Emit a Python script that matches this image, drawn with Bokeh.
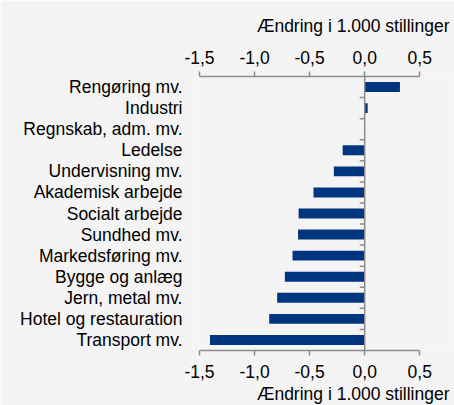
from bokeh.plotting import figure
from bokeh.models import Range1d, LinearAxis, FixedTicker, Span, Title
from bokeh.embed import file_html
from bokeh.resources import INLINE

categories = ["Rengøring mv.", "Industri", "Regnskab, adm. mv.", "Ledelse",
              "Undervisning mv.", "Akademisk arbejde", "Socialt arbejde",
              "Sundhed mv.", "Markedsføring mv.", "Bygge og anlæg",
              "Jern, metal mv.", "Hotel og restauration", "Transport mv."]
values = [0.32, 0.027, 0.003, -0.20, -0.28, -0.465, -0.60, -0.605,
          -0.655, -0.725, -0.795, -0.867, -1.405]
x_ticks = [-1.5, -1.0, -0.5, 0.0, 0.5]
x_tick_labels = ["-1,5", "-1,0", "-0,5", "0,0", "0,5"]
axis_title = "Ændring i 1.000 stillinger"

BG = "#f4f4f4"
BAR = "#003580"
AX = "#8c8c8c"
FONT = "Liberation Sans"
FS = "17.5px"

n = len(categories)
ypos = [n - 1 - i for i in range(n)]

p = figure(width=454, height=405, output_backend="svg", toolbar_location=None,
           x_range=Range1d(-1.5, 0.77), y_range=Range1d(-0.5, n - 0.5),
           x_axis_location=None, y_axis_location=None,
           min_border_left=199, min_border_right=5,
           min_border_top=76, min_border_bottom=54)
p.background_fill_color = BG
p.border_fill_color = BG
p.outline_line_color = None
p.xgrid.visible = False
p.ygrid.visible = False

p.hbar(y=ypos, left=0, right=values, height=0.47, fill_color=BAR, line_color=None)

overrides = {t: l for t, l in zip(x_ticks, x_tick_labels)}
for loc in ("above", "below"):
    ax = LinearAxis(ticker=FixedTicker(ticks=x_ticks), major_label_overrides=overrides,
                    bounds=(x_ticks[0], x_ticks[-1]))
    ax.axis_line_color = AX
    ax.axis_line_width = 1.5
    ax.major_tick_line_color = AX
    ax.major_tick_line_width = 1.5
    ax.major_tick_in = 0
    ax.major_tick_out = 5
    ax.minor_tick_line_color = None
    ax.major_label_text_font = FONT
    ax.major_label_text_font_size = FS
    ax.major_label_text_color = "black"
    ax.major_label_standoff = 8 if loc == "above" else 9
    p.add_layout(ax, loc)
    t = Title(text=axis_title, align="right", text_font=FONT, text_font_size=FS,
              text_font_style="normal", text_color="black",
              standoff=24 if loc == "above" else 3)
    p.add_layout(t, loc)

yax = LinearAxis(ticker=FixedTicker(ticks=ypos),
                 major_label_overrides={y: c for y, c in zip(ypos, categories)})
yax.axis_line_color = None
yax.major_tick_line_color = None
yax.major_tick_in = 0
yax.major_tick_out = 0
yax.minor_tick_line_color = None
yax.major_label_text_font = FONT
yax.major_label_text_font_size = FS
yax.major_label_text_color = "black"
yax.major_label_standoff = 17
p.add_layout(yax, "left")

# zero line with category boundary ticks
p.add_layout(Span(location=0, dimension="height", line_color=AX, line_width=1.5))
bounds = [k + 0.5 for k in range(n - 1)]
p.segment(x0=[-0.045] * len(bounds), x1=[0] * len(bounds), y0=bounds, y1=bounds,
          line_color=AX, line_width=1.5)

open("out.html", "w").write(file_html(p, INLINE))
